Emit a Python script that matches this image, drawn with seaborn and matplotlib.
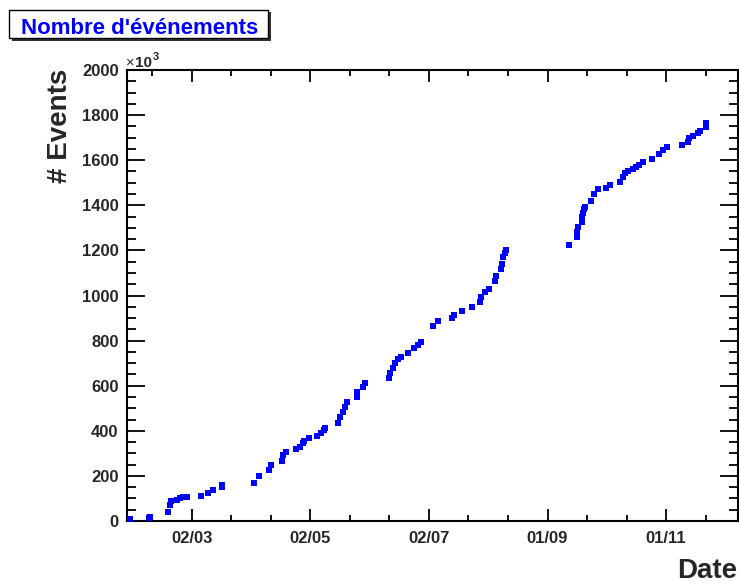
import numpy as np
import pandas as pd
import matplotlib
matplotlib.use("Agg")
import matplotlib.pyplot as plt
import matplotlib.dates as mdates
from matplotlib.ticker import FixedLocator, MultipleLocator
from matplotlib.patches import Rectangle
import seaborn as sns

# Cumulative number of events (in thousands)
event_dates = [
    "2010-01-29 06:00", "2010-02-08 00:00", "2010-02-08 16:00", "2010-02-18 00:00",
    "2010-02-18 18:00", "2010-02-19 04:00", "2010-02-22 08:00", "2010-02-24 00:00",
    "2010-02-25 16:00", "2010-02-27 10:00", "2010-03-06 20:00", "2010-03-10 04:00",
    "2010-03-13 02:00", "2010-03-17 10:00", "2010-03-17 12:00", "2010-04-03 04:00",
    "2010-04-05 08:00", "2010-04-10 22:00", "2010-04-11 14:00", "2010-04-17 08:00",
    "2010-04-18 02:00", "2010-04-19 08:00", "2010-04-24 16:00", "2010-04-26 16:00",
    "2010-04-28 02:00", "2010-04-28 22:00", "2010-05-01 08:00", "2010-05-05 08:00",
    "2010-05-07 12:00", "2010-05-09 02:00", "2010-05-09 08:00", "2010-05-16 10:00",
    "2010-05-17 08:00", "2010-05-18 14:00", "2010-05-19 22:00", "2010-05-20 16:00",
    "2010-05-25 20:00", "2010-05-26 00:00", "2010-05-29 08:00", "2010-05-30 02:00",
    "2010-06-11 12:00", "2010-06-12 00:00", "2010-06-13 10:00", "2010-06-14 14:00",
    "2010-06-16 00:00", "2010-06-17 12:00", "2010-06-21 10:00", "2010-06-24 10:00",
    "2010-06-26 14:00", "2010-06-28 00:00", "2010-07-04 08:00", "2010-07-06 22:00",
    "2010-07-13 20:00", "2010-07-15 02:00", "2010-07-18 22:00", "2010-07-24 00:00",
    "2010-07-28 08:00", "2010-07-28 20:00", "2010-07-30 22:00", "2010-08-01 22:00",
    "2010-08-05 00:00", "2010-08-05 10:00", "2010-08-08 00:00", "2010-08-08 12:00",
    "2010-08-09 08:00", "2010-08-10 04:00", "2010-08-10 12:00", "2010-09-12 04:00",
    "2010-09-16 00:00", "2010-09-16 04:00", "2010-09-16 22:00", "2010-09-18 14:00",
    "2010-09-18 22:00", "2010-09-19 10:00", "2010-09-19 22:00", "2010-09-20 08:00",
    "2010-09-23 04:00", "2010-09-25 02:00", "2010-09-27 04:00", "2010-10-01 02:00",
    "2010-10-03 04:00", "2010-10-08 08:00", "2010-10-09 16:00", "2010-10-10 22:00",
    "2010-10-12 14:00", "2010-10-14 22:00", "2010-10-16 14:00", "2010-10-18 04:00",
    "2010-10-20 08:00", "2010-10-24 14:00", "2010-10-28 10:00", "2010-10-30 14:00",
    "2010-11-01 08:00", "2010-11-09 10:00", "2010-11-12 02:00", "2010-11-12 20:00",
    "2010-11-15 00:00", "2010-11-17 14:00", "2010-11-18 10:00", "2010-11-21 14:00",
    "2010-11-21 16:00",
]
events_k = [
    8, 15, 17, 41,
    71, 90, 93, 100,
    105, 108, 112, 126,
    137, 150, 160, 170,
    200, 226, 248, 266,
    293, 307, 319, 330,
    347, 356, 367, 377,
    389, 404, 411, 433,
    463, 485, 507, 529,
    551, 573, 593, 611,
    633, 655, 677, 699,
    718, 729, 744, 766,
    781, 795, 865, 887,
    902, 914, 931, 948,
    970, 995, 1014, 1028,
    1064, 1088, 1118, 1138,
    1169, 1187, 1202, 1223,
    1258, 1283, 1303, 1327,
    1347, 1365, 1382, 1394,
    1418, 1449, 1471, 1478,
    1490, 1502, 1524, 1542,
    1552, 1560, 1569, 1579,
    1594, 1604, 1626, 1645,
    1660, 1666, 1682, 1697,
    1707, 1719, 1730, 1749,
    1766,
]

# Time axis: labelled ticks and the minor ticks in between
major_dates = ["2010-03-02", "2010-05-02", "2010-07-02", "2010-09-01", "2010-11-01"]
minor_dates = [
    "2010-02-09 16:00", "2010-03-22 08:00", "2010-04-11 16:00", "2010-05-22 08:00",
    "2010-06-11 16:00", "2010-07-22 08:00", "2010-08-11 16:00", "2010-09-21 08:00",
    "2010-10-11 16:00", "2010-11-21 08:00",
]
x_range = ["2010-01-27 16:00", "2010-12-08 00:00"]

df = pd.DataFrame({"date": pd.to_datetime(event_dates), "events": events_k})

sns.set_style("ticks")
plt.rcParams["font.family"] = ["Liberation Sans", "DejaVu Sans"]
plt.rcParams["font.weight"] = "bold"

W, H = 739, 585
fig = plt.figure(figsize=(W / 100, H / 100), dpi=100)
ax = fig.add_axes([127 / W, 1 - 521 / H, (738 - 127) / W, (521 - 70) / H])

sns.scatterplot(data=df, x="date", y="events", marker="s", color="#0000ff",
                s=22, linewidth=0, ax=ax, zorder=3)

ax.set_xlim(pd.to_datetime(x_range[0]), pd.to_datetime(x_range[1]))
ax.set_ylim(0, 2000)

ax.xaxis.set_major_locator(FixedLocator(mdates.date2num(pd.to_datetime(major_dates))))
ax.xaxis.set_minor_locator(FixedLocator(mdates.date2num(pd.to_datetime(minor_dates))))
ax.xaxis.set_major_formatter(mdates.DateFormatter("%d/%m"))
ax.yaxis.set_major_locator(MultipleLocator(200))
ax.yaxis.set_minor_locator(MultipleLocator(50))

for side in ["left", "right", "top", "bottom"]:
    ax.spines[side].set_visible(True)
    ax.spines[side].set_linewidth(1.5)
    ax.spines[side].set_color("black")

ax.tick_params(axis="both", which="both", direction="in", top=True, right=True,
               width=1.3, color="black", labelsize=12)
ax.tick_params(axis="x", which="major", length=8.5, pad=7)
ax.tick_params(axis="x", which="minor", length=4.3)
ax.tick_params(axis="y", which="major", length=13, pad=6)
ax.tick_params(axis="y", which="minor", length=6.5)
for lab in ax.get_xticklabels() + ax.get_yticklabels():
    lab.set_fontweight("bold")

ax.set_xlabel("")
ax.set_ylabel("")

fig.text(60 / W, 1 - 126 / H, "# Events", rotation=90, ha="center", va="center",
         fontsize=20, fontweight="bold")
fig.text(737 / W, 1 - 571 / H, "Date", ha="right", va="center",
         fontsize=20, fontweight="bold")

# axis multiplier drawn ROOT-style above the top-left corner
fig.text(126 / W, 1 - 67 / H, "\u00d7", ha="left", va="baseline",
         fontsize=10.5, fontweight="normal")
fig.text(135 / W, 1 - 67 / H, "10", ha="left", va="baseline",
         fontsize=11, fontweight="bold")
fig.text(153 / W, 1 - 60 / H, "3", ha="left", va="baseline",
         fontsize=8, fontweight="bold")

# Title box with a drop shadow
fig.patches.append(Rectangle((12 / W, 1 - 41 / H), 259 / W, 29 / H,
                             transform=fig.transFigure, facecolor="#333333",
                             edgecolor="none", zorder=1))
fig.patches.append(Rectangle((9 / W, 1 - 38 / H), 259 / W, 28 / H,
                             transform=fig.transFigure, facecolor="white",
                             edgecolor="black", linewidth=1, zorder=2))
fig.text(140 / W, 1 - 28 / H, "Nombre d'\u00e9v\u00e9nements", ha="center", va="center",
         fontsize=16, fontweight="bold", color="#0000ff", zorder=3)

fig.savefig("out.png", dpi=100)
